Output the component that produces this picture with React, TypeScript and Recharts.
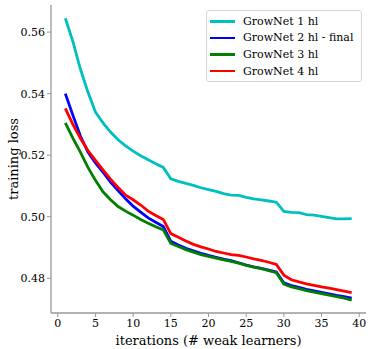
import { LineChart, Line, XAxis, YAxis, Legend } from 'recharts';

const iterations = [
  1, 2, 3, 4, 5, 6, 7, 8, 9, 10, 11, 12, 13, 14, 15, 16, 17, 18, 19, 20,
  21, 22, 23, 24, 25, 26, 27, 28, 29, 30, 31, 32, 33, 34, 35, 36, 37, 38, 39,
];

const grownet1 = [
  0.5645, 0.557, 0.548, 0.5405, 0.534, 0.5305, 0.5275, 0.525, 0.523, 0.5213,
  0.5198, 0.5185, 0.5172, 0.516, 0.5123, 0.5115, 0.5108, 0.5102, 0.5094, 0.5088,
  0.5082, 0.5075, 0.507, 0.5069, 0.5063, 0.5058, 0.5055, 0.5051, 0.5047, 0.5017,
  0.5014, 0.5013, 0.5007, 0.5005, 0.5001, 0.4997, 0.4993, 0.4993, 0.4994,
];

const grownet2 = [
  0.54, 0.533, 0.5262, 0.521, 0.5175, 0.5145, 0.5112, 0.5085, 0.5058, 0.5034,
  0.5015, 0.4996, 0.4982, 0.4968, 0.492, 0.4908, 0.4897, 0.4889, 0.4881, 0.4874,
  0.4868, 0.4862, 0.4857, 0.485, 0.4843, 0.4837, 0.4832, 0.4826, 0.482, 0.4785,
  0.4776, 0.477, 0.4764, 0.4759, 0.4754, 0.4749, 0.4744, 0.474, 0.4735,
];

const grownet3 = [
  0.5305, 0.5255, 0.521, 0.516, 0.5118, 0.5081, 0.5055, 0.5033, 0.5018, 0.5005,
  0.4991, 0.4979, 0.4967, 0.4957, 0.4913, 0.4903, 0.4893, 0.4885, 0.4877, 0.4871,
  0.4865, 0.486, 0.4855, 0.4849, 0.4842, 0.4836, 0.4831, 0.4825, 0.4818, 0.4781,
  0.4772, 0.4766, 0.476, 0.4755, 0.475, 0.4745, 0.474, 0.4735, 0.4729,
];

const grownet4 = [
  0.5352, 0.53, 0.5255, 0.5215, 0.5183, 0.5152, 0.5122, 0.5095, 0.507, 0.5055,
  0.5038, 0.5018, 0.5004, 0.4991, 0.4945, 0.4933, 0.4921, 0.491, 0.4902, 0.4895,
  0.4887, 0.4882, 0.4877, 0.4874, 0.4869, 0.4863, 0.4858, 0.4852, 0.4845, 0.481,
  0.4795, 0.4788, 0.4782, 0.4777, 0.4772, 0.4768, 0.4763, 0.4758, 0.4753,
];

const seriesNames = ['GrowNet 1 hl', 'GrowNet 2 hl - final', 'GrowNet 3 hl', 'GrowNet 4 hl'];
const seriesColors = ['#00bfbf', '#0000ff', '#008000', '#ff0000'];
const xTicks = [0, 5, 10, 15, 20, 25, 30, 35, 40];
const yTicks = [0.48, 0.5, 0.52, 0.54, 0.56];

const data = iterations.map((it, i) => ({
  it,
  s1: grownet1[i],
  s2: grownet2[i],
  s3: grownet3[i],
  s4: grownet4[i],
}));

const FONT = '"DejaVu Serif", serif';

const renderLegend = () => (
  <div
    style={{
      border: '1px solid #d6d6d6',
      borderRadius: 3,
      background: '#fff',
      padding: '2px 4px 2px 3px',
      fontFamily: FONT,
      fontSize: 11,
      color: '#000',
    }}
  >
    {seriesNames.map((name, i) => (
      <div key={name} style={{ display: 'flex', alignItems: 'center', height: 16.6 }}>
        <span style={{ width: 25, height: 2.6, background: seriesColors[i], marginRight: 8 }} />
        <span>{name}</span>
      </div>
    ))}
  </div>
);

const YLabel = () => (
  <text
    x={13}
    y={159}
    transform="rotate(-90 13 159)"
    textAnchor="middle"
    dominantBaseline="central"
    style={{ fontSize: 13, fontFamily: FONT, fill: '#000' }}
  >
    training loss
  </text>
);

export default function App() {
  const tickStyle = { fill: '#000', fontSize: 11, style: { fontFamily: FONT } };
  return (
    <div style={{ position: 'absolute', left: 0, top: 0, background: '#fff', fontFamily: FONT }}>
      <LineChart
        width={374}
        height={349}
        data={data}
        margin={{ top: 5, right: 8, left: 0, bottom: 0 }}
        style={{ fontFamily: FONT }}
      >
        <XAxis
          dataKey="it"
          type="number"
          domain={[-0.9, 40.9]}
          ticks={xTicks}
          tick={tickStyle}
          tickSize={4}
          height={36}
          axisLine={{ stroke: '#999', strokeWidth: 1.3 }}
          tickLine={{ stroke: '#999' }}
          label={{ value: 'iterations (# weak learners)', position: 'insideBottom', offset: 4, fontSize: 13, fill: '#000', style: { fontFamily: FONT } }}
        />
        <XAxis xAxisId="top" orientation="top" dataKey="it" type="number" domain={[-0.9, 40.9]} tick={false} tickLine={false} height={0} axisLine={{ stroke: '#999', strokeWidth: 1.3 }} />
        <YAxis
          type="number"
          domain={[0.4687, 0.5688]}
          ticks={yTicks}
          tickFormatter={(v: number) => v.toFixed(2)}
          tick={tickStyle}
          tickSize={4}
          width={51}
          axisLine={{ stroke: '#999', strokeWidth: 1.3 }}
          tickLine={{ stroke: '#999' }}
          label={{ content: YLabel }}
        />
        <YAxis yAxisId="right" orientation="right" domain={[0.4687, 0.5688]} tick={false} tickLine={false} width={0} axisLine={{ stroke: '#333', strokeWidth: 1.3 }} />
        <Legend
          content={renderLegend}
          layout="horizontal"
          verticalAlign="middle"
          align="center"
          wrapperStyle={{ position: 'absolute', left: 206, top: 10, width: 156, height: 'auto' }}
        />
        {['s1', 's2', 's3', 's4'].map((key, i) => (
          <Line
            key={key}
            dataKey={key}
            name={seriesNames[i]}
            stroke={seriesColors[i]}
            strokeWidth={2.8}
            dot={false}
            isAnimationActive={false}
            type="linear"
          />
        ))}
      </LineChart>
    </div>
  );
}
